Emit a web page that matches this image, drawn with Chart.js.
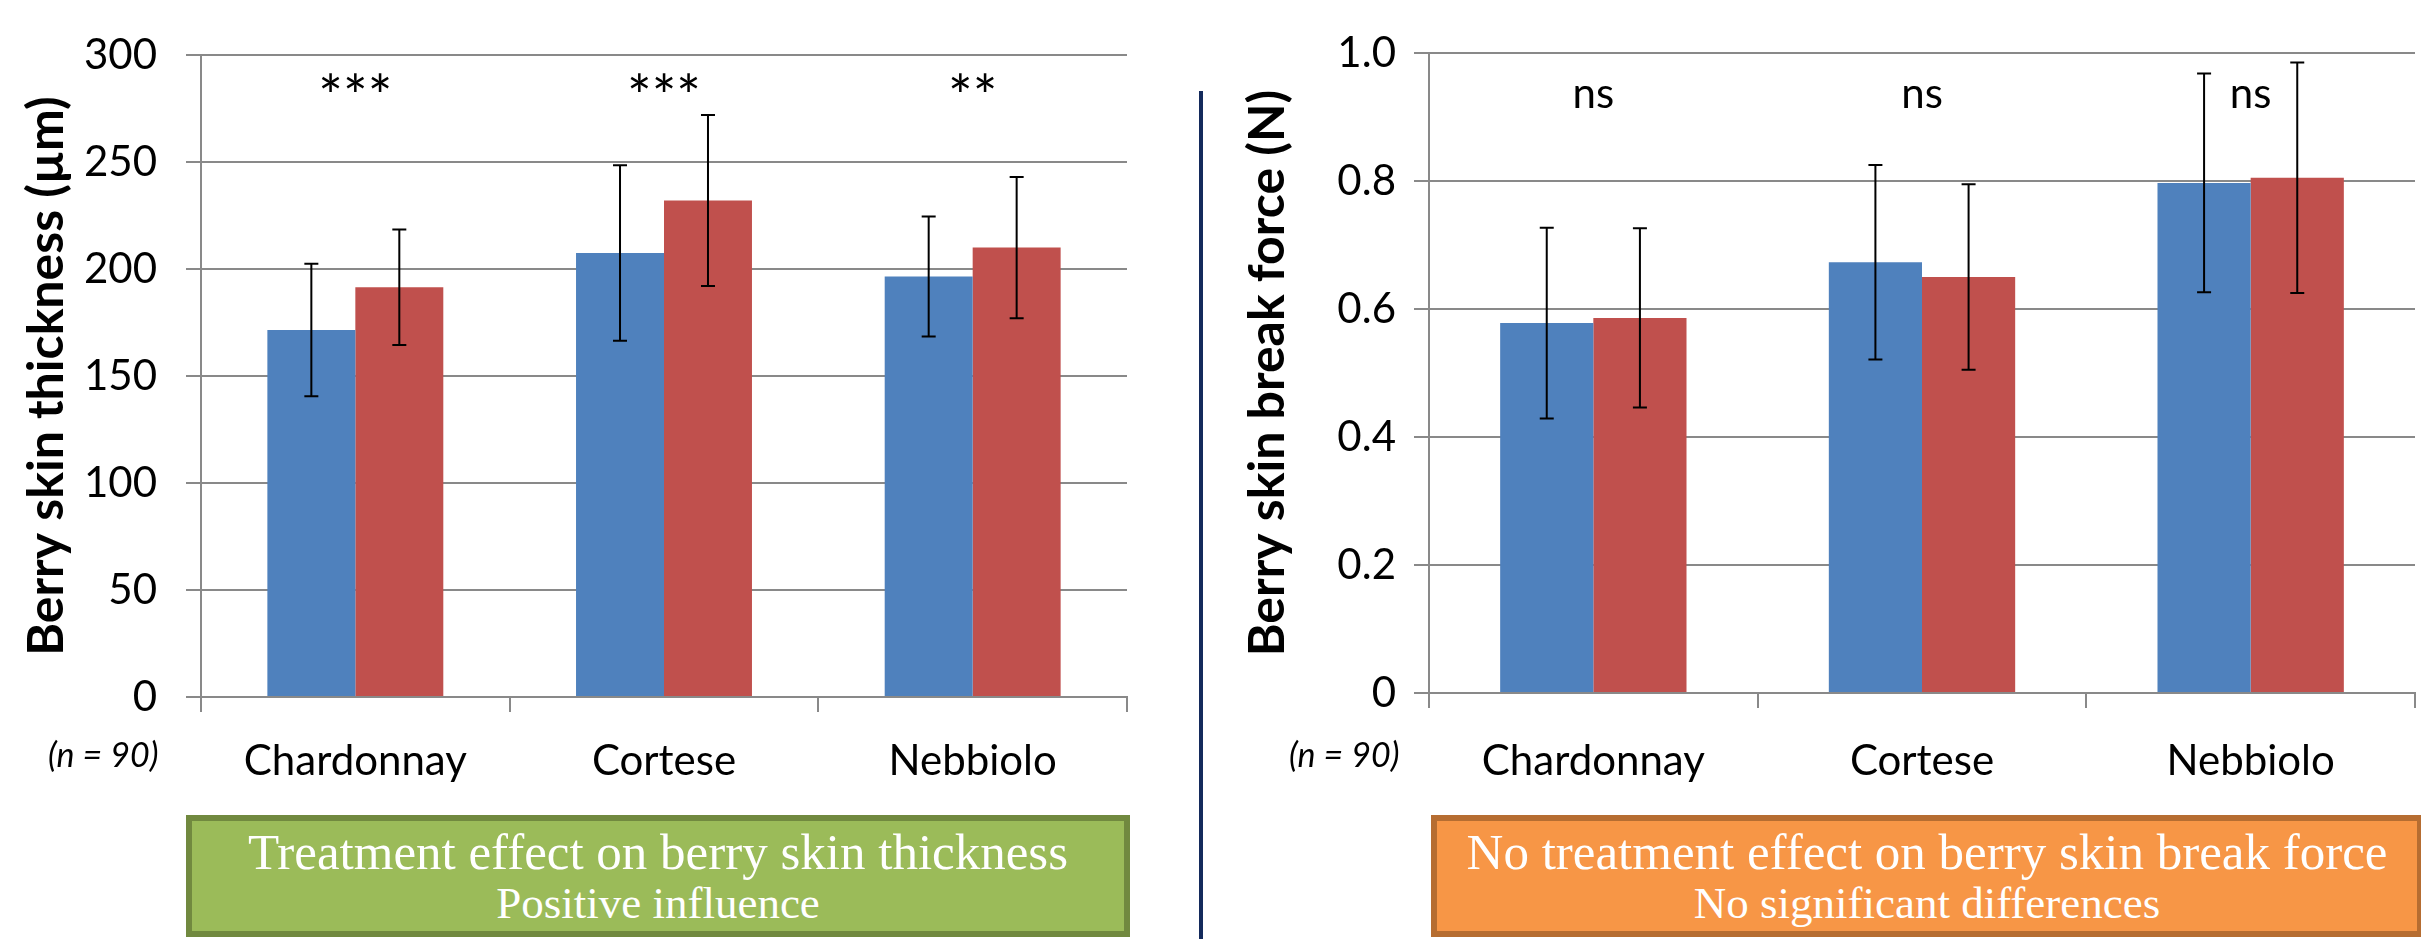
<!DOCTYPE html>
<html>
<head>
<meta charset="utf-8">
<script src="https://cdn.jsdelivr.net/npm/chart.js@4.4.0/dist/chart.umd.min.js"></script>
<style>
  html, body { margin: 0; padding: 0; background: #fff; }
  body { width: 2421px; height: 939px; position: relative; overflow: hidden; font-family: Lato, sans-serif; }
  .panel { position: absolute; top: 0; height: 800px; }
  #leftPanel { left: 0; width: 1190px; }
  #rightPanel { left: 1205px; width: 1216px; }
  .divider { position: absolute; left: 1199px; top: 91px; width: 4px; height: 848px; background: #142a5c; }
  .nlabel { position: absolute; top: 733px; font: italic 34px Lato, sans-serif; color: #000; }
  .box { position: absolute; top: 815px; height: 122px; box-sizing: border-box; border: 6px solid; color: #fff;
         text-align: center; font-family: "Liberation Serif", serif; padding-top: 6px; white-space: nowrap; }
  .box .main { font-size: 51px; line-height: 50px; }
  .box .sub { font-size: 45px; line-height: 52px; }
  #greenBox { left: 186px; width: 944px; background: #9bbb59; border-color: #71893f; }
  #orangeBox { left: 1431px; width: 992px; background: #f79646; border-color: #b66d31; }
</style>
</head>
<body>
<div class="panel" id="leftPanel"><canvas id="thicknessChart"></canvas></div>
<div class="panel" id="rightPanel"><canvas id="forceChart"></canvas></div>
<div class="divider"></div>
<div class="nlabel" style="left:48px;">(<i>n</i> = 90)</div>
<div class="nlabel" style="left:1289px;">(<i>n</i> = 90)</div>
<div class="box" id="greenBox">
  <div class="main">Treatment effect on berry skin thickness</div>
  <div class="sub">Positive influence</div>
</div>
<div class="box" id="orangeBox">
  <div class="main">No treatment effect on berry skin break force</div>
  <div class="sub">No significant differences</div>
</div>
<script>
// Data
const varieties = ['Chardonnay', 'Cortese', 'Nebbiolo'];
const seriesNames = ['Control', 'Treated'];

const thicknessControl = [171.5, 207.5, 196.5];
const thicknessTreated = [191.5, 232, 210];
const thicknessControlErr = [31, 41, 28];
const thicknessTreatedErr = [27, 40, 33];
const thicknessSig = ['***', '***', '**'];
const thicknessTickLabels = ['0', '50', '100', '150', '200', '250', '300'];

const forceControl = [0.578, 0.673, 0.797];
const forceTreated = [0.586, 0.650, 0.805];
const forceControlErr = [0.149, 0.152, 0.171];
const forceTreatedErr = [0.140, 0.145, 0.180];
const forceSig = ['ns', 'ns', 'ns'];
const forceTickLabels = ['0', '0.2', '0.4', '0.6', '0.8', '1.0'];

const blue = '#4f81bd';
const red = '#c0504d';
const gridColor = '#898989';

Chart.defaults.font.family = 'Lato, sans-serif';
Chart.defaults.color = '#000';

// Error bars drawn from each dataset's "errors" array
const errorBars = {
    id: 'errorBars',
    afterDatasetsDraw(chart) {
        const ctx = chart.ctx;
        const y = chart.scales.y;
        ctx.save();
        ctx.strokeStyle = '#000';
        ctx.lineWidth = 2;
        chart.data.datasets.forEach((ds, di) => {
            chart.getDatasetMeta(di).data.forEach((bar, i) => {
                const v = ds.data[i], e = ds.errors[i];
                const top = y.getPixelForValue(v + e);
                const bot = y.getPixelForValue(v - e);
                ctx.beginPath();
                ctx.moveTo(bar.x, top); ctx.lineTo(bar.x, bot);
                ctx.moveTo(bar.x - 7, top); ctx.lineTo(bar.x + 7, top);
                ctx.moveTo(bar.x - 7, bot); ctx.lineTo(bar.x + 7, bot);
                ctx.stroke();
            });
        });
        ctx.restore();
    }
};

// Significance marks above each category
const sigMarks = {
    id: 'sigMarks',
    afterDraw(chart, args, opts) {
        const ctx = chart.ctx;
        const x = chart.scales.x;
        ctx.save();
        ctx.font = opts.size + 'px Lato, sans-serif';
        ctx.fillStyle = '#000';
        ctx.textAlign = 'center';
        ctx.textBaseline = 'alphabetic';
        opts.labels.forEach((t, i) => {
            ctx.fillText(t, x.getPixelForValue(i), chart.chartArea.top + opts.offset);
        });
        ctx.restore();
    }
};

function makeChart(id, cfg) {
    return new Chart(document.getElementById(id), {
        type: 'bar',
        data: {
            labels: varieties,
            datasets: [
                { label: seriesNames[0], data: cfg.control, errors: cfg.controlErr, backgroundColor: blue },
                { label: seriesNames[1], data: cfg.treated, errors: cfg.treatedErr, backgroundColor: red }
            ]
        },
        options: {
            responsive: true,
            maintainAspectRatio: false,
            animation: false,
            categoryPercentage: cfg.catPct,
            barPercentage: 1.0,
            layout: { padding: { left: 0, top: cfg.top, right: cfg.right, bottom: 0 } },
            plugins: {
                legend: { display: false },
                tooltip: { enabled: false },
                sigMarks: { labels: cfg.sig, offset: cfg.sigOffset, size: cfg.sigSize }
            },
            scales: {
                x: {
                    afterFit: s => { s.height = cfg.xHeight; },
                    grid: { offset: true, drawOnChartArea: false, tickLength: 15, color: gridColor, lineWidth: 2 },
                    border: { color: gridColor, width: 2 },
                    ticks: { font: { size: 42 }, color: '#000', padding: cfg.xPad }
                },
                y: {
                    min: 0,
                    max: cfg.max,
                    afterFit: s => { s.width = cfg.yWidth; },
                    grid: { color: gridColor, lineWidth: 2, tickLength: 15 },
                    border: { color: gridColor, width: 2 },
                    ticks: {
                        stepSize: cfg.step,
                        font: { size: 42 },
                        color: '#000',
                        padding: cfg.yPad,
                        callback: (v, i) => cfg.tickLabels[i]
                    },
                    title: {
                        display: true,
                        text: cfg.title,
                        font: { size: 50, weight: 'bold' },
                        color: '#000',
                        padding: { top: cfg.titlePad, bottom: 0 }
                    }
                }
            }
        },
        plugins: [errorBars, sigMarks]
    });
}

makeChart('thicknessChart', {
    control: thicknessControl, treated: thicknessTreated,
    controlErr: thicknessControlErr, treatedErr: thicknessTreatedErr,
    sig: thicknessSig, tickLabels: thicknessTickLabels,
    max: 300, step: 50, title: 'Berry skin thickness (µm)',
    catPct: 0.57, top: 55, right: 63, xHeight: 103, yWidth: 201,
    xPad: 24, yPad: 29, titlePad: 17, sigOffset: 62, sigSize: 58
});

makeChart('forceChart', {
    control: forceControl, treated: forceTreated,
    controlErr: forceControlErr, treatedErr: forceTreatedErr,
    sig: forceSig, tickLabels: forceTickLabels,
    max: 1.0, step: 0.2, title: 'Berry skin break force (N)',
    catPct: 0.567, top: 53, right: 6, xHeight: 107, yWidth: 224,
    xPad: 28, yPad: 18, titlePad: 33, sigOffset: 55, sigSize: 42
});
</script>
</body>
</html>
